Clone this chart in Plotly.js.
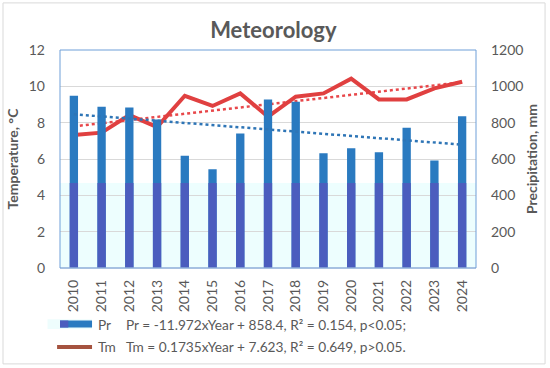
<!DOCTYPE html>
<html><head><meta charset="utf-8">
<script src="https://cdn.plot.ly/plotly-3.0.1.min.js"></script>
<style>html,body{margin:0;padding:0;background:#fff}#chart{width:550px;height:368px}</style>
</head><body><div id="chart"></div>
<script>
const years = ['2010','2011','2012','2013','2014','2015','2016','2017','2018','2019','2020','2021','2022','2023','2024'];
const precip = [948, 888, 884, 818, 618, 543, 741, 928, 915, 631, 659, 637, 772, 592, 835];
const temp = [7.32, 7.45, 8.42, 7.76, 9.48, 8.92, 9.61, 8.33, 9.43, 9.61, 10.42, 9.28, 9.28, 9.89, 10.25];
const prTrend = {slope: -11.972, intercept: 858.4, r2: '0.154', p: 'p<0.05;'};
const tmTrend = {slope: 0.1735, intercept: 7.623, r2: '0.649', p: 'p>0.05.'};
const leftTicks = [0, 2, 4, 6, 8, 10, 12];
const rightTicks = [0, 200, 400, 600, 800, 1000, 1200];

const FONT = 'Lato, "Open Sans", sans-serif';
const GRAY = '#595959';
const band = 468; // lower tint band (mm)

const idx = years.map((_, i) => i + 1);
const prFit = idx.map(x => prTrend.slope * x + prTrend.intercept);
const tmFit = idx.map(x => tmTrend.slope * x + tmTrend.intercept);

const traces = [
  {type: 'bar', x: years, y: precip, yaxis: 'y2', marker: {color: '#2A7AC0'}, name: 'Pr', hoverinfo: 'skip'},
  {type: 'bar', x: years, y: precip.map(v => Math.min(v, band)), yaxis: 'y2', marker: {color: '#4B5DBE'}, hoverinfo: 'skip'},
  {type: 'scatter', mode: 'lines', x: years, y: prFit, yaxis: 'y2', line: {color: '#2E75B6', width: 2.5, dash: 'dot'}},
  {type: 'scatter', mode: 'lines', x: years, y: tmFit, line: {color: '#E8474A', width: 2.5, dash: 'dot'}},
  {type: 'scatter', mode: 'lines', x: years, y: temp, name: 'Tm', line: {color: '#E04040', width: 4}}
];

const tickFont = {family: FONT, size: 14, color: GRAY};
const eqFont = {family: FONT, size: 13.7, color: GRAY};
const layout = {
  width: 550, height: 368,
  margin: {l: 60, r: 74, t: 50, b: 100},
  paper_bgcolor: '#fff', plot_bgcolor: 'rgba(0,0,0,0)',
  showlegend: false, barmode: 'overlay', bargap: 0.7,
  title: {text: '<b>Meteorology</b>', font: {family: FONT, size: 22, color: GRAY}, x: 0.497, xanchor: 'center', y: 0.918, yanchor: 'middle'},
  xaxis: {type: 'category', range: [-0.5, 14.5], tickangle: -90, tickfont: tickFont, ticklabelstandoff: 8, showgrid: false, ticks: '', showline: false, zeroline: false, fixedrange: true},
  yaxis: {range: [0, 12], tickvals: leftTicks, tickfont: tickFont, ticklabelstandoff: 14, gridcolor: '#D9D9D9', zeroline: false, showline: false, ticks: '',
    title: {text: '<b>Temperature, °C</b>', font: {family: FONT, size: 14, color: GRAY}, standoff: 6}},
  yaxis2: {range: [0, 1200], tickvals: rightTicks, overlaying: 'y', side: 'right', tickfont: tickFont, ticklabelstandoff: 14, showgrid: false, zeroline: false, ticks: '',
    title: {text: '<b>Precipitation, mm</b>', font: {family: FONT, size: 14, color: GRAY}, standoff: 4}},
  shapes: [
    {type: 'rect', xref: 'paper', yref: 'y2', x0: 0, x1: 1, y0: 0, y1: band, fillcolor: '#EDFEFE', line: {width: 0}, layer: 'below'},
    {type: 'line', xref: 'paper', yref: 'paper', x0: 0, x1: 1, y0: 0, y1: 0, line: {color: '#C8C8D8', width: 1}},
    {type: 'rect', xref: 'paper', yref: 'paper', x0: 0, x1: 1, y0: 0, y1: 1, line: {color: '#6F9FD8', width: 1}, fillcolor: 'rgba(0,0,0,0)'},
    {type: 'rect', xref: 'paper', yref: 'paper', x0: -0.137, x1: 1.166, y0: -0.44, y1: 1.216, line: {color: '#D9D9D9', width: 1}, fillcolor: 'rgba(0,0,0,0)'},
    {type: 'rect', xref: 'paper', yref: 'paper', x0: -0.03, x1: 0.077, y0: -0.235, y1: -0.28, line: {width: 0}, fillcolor: '#EEFDFD'},
    {type: 'rect', xref: 'paper', yref: 'paper', x0: 0, x1: 0.077, y0: -0.241, y1: -0.273, line: {width: 0}, fillcolor: '#2A7AC0'},
    {type: 'rect', xref: 'paper', yref: 'paper', x0: 0, x1: 0.02, y0: -0.241, y1: -0.273, line: {width: 0}, fillcolor: '#4B5DBE'},
    {type: 'line', xref: 'paper', yref: 'paper', x0: -0.007, x1: 0.077, y0: -0.362, y1: -0.362, line: {color: '#A5533F', width: 4}}
  ],
  annotations: [
    {xref: 'paper', yref: 'paper', x: 0.087, y: -0.257, xanchor: 'left', yanchor: 'middle', showarrow: false, text: 'Pr', font: eqFont},
    {xref: 'paper', yref: 'paper', x: 0.087, y: -0.362, xanchor: 'left', yanchor: 'middle', showarrow: false, text: 'Tm', font: eqFont},
    {xref: 'paper', yref: 'paper', x: 0.155, y: -0.257, xanchor: 'left', yanchor: 'middle', showarrow: false,
      text: 'Pr = ' + prTrend.slope + 'xYear + ' + prTrend.intercept + ', R² = ' + prTrend.r2 + ', ' + prTrend.p, font: eqFont},
    {xref: 'paper', yref: 'paper', x: 0.155, y: -0.362, xanchor: 'left', yanchor: 'middle', showarrow: false,
      text: 'Tm = ' + tmTrend.slope + 'xYear + ' + tmTrend.intercept + ', R² = ' + tmTrend.r2 + ', ' + tmTrend.p, font: eqFont}
  ]
};
Plotly.newPlot('chart', traces, layout, {staticPlot: true, displayModeBar: false});
</script></body></html>
